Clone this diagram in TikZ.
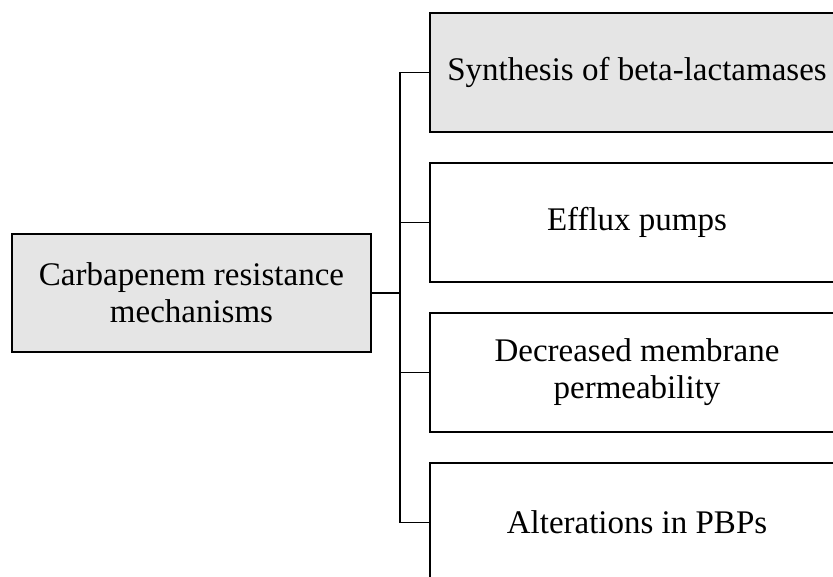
\documentclass[tikz,border=0pt]{standalone}
\usepackage{fontspec}
\setmainfont{Liberation Serif}
\usepackage{tikz}

\begin{document}
\begin{tikzpicture}[
        x=1pt, y=-1pt,
        node distance=150pt,
        line width=1.2pt,
        box/.style={draw, minimum width=414pt, minimum height=119pt,
                    align=center, font=\fontsize{33}{37}\selectfont},
        greybox/.style={box, fill=gray!20}
        ]
        \useasboundingbox (0,0) rectangle (833,577);
        \clip (0,0) rectangle (833,577);
        \coordinate (trunk) at (400,0);

        \node[greybox, minimum width=359pt, minimum height=118pt] (mech) at (191.5,293) {Carbapenem resistance\\mechanisms};

        \node[greybox] (synth) at (637,72.5) {Synthesis of beta-lactamases};
        \node[box] (efflux) [below of=synth] {Efflux pumps};
        \node[box] (perm) [below of=efflux] {Decreased membrane\\permeability};
        \node[box] (pbp) [below of=perm] {Alterations in PBPs};

        \draw (mech.east) -- (mech.east -| trunk);
        \draw (synth.west) -- (synth.west -| trunk) -- (pbp.west -| trunk) -- (pbp.west);
        \draw (efflux.west) -- (efflux.west -| trunk);
        \draw (perm.west) -- (perm.west -| trunk);
\end{tikzpicture}
\end{document}
